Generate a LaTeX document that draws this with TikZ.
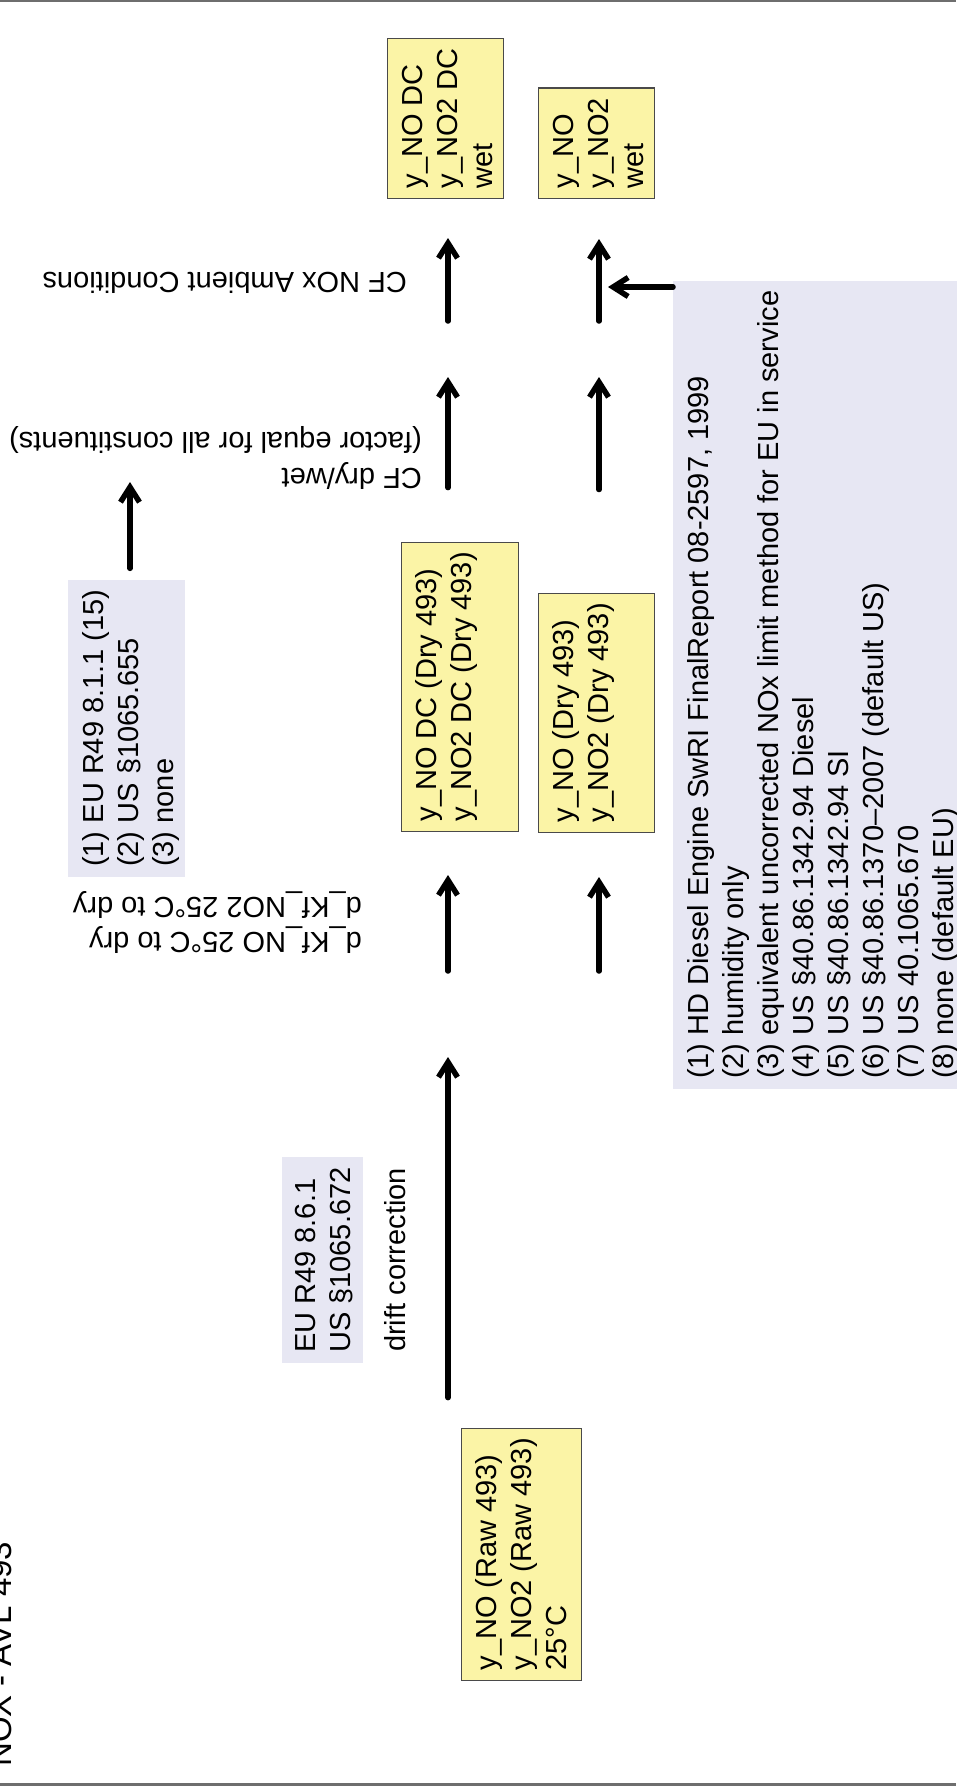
\documentclass[tikz,border=0pt]{standalone}
\usepackage{fontspec}
\setmainfont{Liberation Sans}
\usepackage{xcolor}
\usepackage{tikz}
\usetikzlibrary{arrows.meta, positioning}

\definecolor{boxfill}{HTML}{FBF4A6}
\definecolor{boxline}{HTML}{4A4A4A}
\definecolor{reffill}{HTML}{E7E7F3}
\definecolor{rulegray}{HTML}{6E6E6E}
\newcommand{\diagfont}{\fontsize{29}{35}\selectfont}
\newcommand{\textrows}[1]{\begin{tabular}[t]{@{}l@{}}#1\end{tabular}}

\begin{document}
\begin{tikzpicture}[x=1pt, y=-1pt, font=\diagfont,
    yellowbox/.style={draw=boxline, line width=1.3pt, fill=boxfill, rotate=90,
        inner xsep=10pt, inner ysep=6pt, text height=29pt, text depth=75pt, anchor=north west},
    refbox/.style={fill=reffill, rotate=90, inner xsep=10pt, inner ysep=6pt,
        text height=29pt, anchor=north west},
    note/.style={rotate=180, inner sep=0pt, text height=29pt, anchor=north west},
    sidetext/.style={inner sep=0pt, anchor=base west},
    flow/.style={-{Straight Barb[length=15pt, width=19pt]}, line width=5.5pt, line cap=round, line join=round}]

    \useasboundingbox (0,0) rectangle (956,1786);
    \draw[rulegray, line width=2.5pt] (0,1) -- (956,1);
    \draw[rulegray, line width=3pt] (0,1784.5) -- (956,1784.5);

    \node[sidetext, rotate=90, font=\fontsize{33}{40}\selectfont] (title) at (12,1767) {NOX - AVL 493};

    \node[yellowbox, text depth=79pt] (raw) at (461,1681) {\textrows{y\_NO (Raw 493)\\y\_NO2 (Raw 493)\\25°C}};
    \node[yellowbox, text depth=76pt] (dcdry) at (401,832) {\textrows{y\_NO DC (Dry 493)\\y\_NO2 DC (Dry 493)}};
    \node[yellowbox] (dry) at (538,833) {\textrows{y\_NO (Dry 493)\\y\_NO2 (Dry 493)}};
    \node[yellowbox] (wetdc) at (387,199) {\textrows{y\_NO DC\\y\_NO2 DC\\wet}};
    \node[yellowbox] (wet) at (538,199) {\textrows{y\_NO\\y\_NO2\\wet}};

    \node[refbox, text height=27pt, text depth=42pt] (drift) at (282,1363) {\textrows{EU R49 8.6.1\\US §1065.672}};
    \node[refbox, text depth=76pt] (kfopt) at (68,877) {\textrows{(1) EU R49 8.1.1 (15)\\(2) US §1065.655\\(3) none}};
    \node[refbox] (ambopt) at (673,1089) {\textrows{(1) HD Diesel Engine SwRI FinalReport 08-2597, 1999\\(2) humidity only\\(3) equivalent uncorrected NOx limit method for EU in service\\(4) US §40.86.1342.94 Diesel\\(5) US §40.86.1342.94 SI\\(6) US §40.86.1370–2007 (default US)\\(7) US 40.1065.670\\(8) none (default EU)}};

    \node[sidetext, rotate=90] (driftlbl) at (405,1352) {drift correction};
    \node[note] (kflbl) at (362,962) {\textrows{d\_Kf\_NO 25°C to dry\\d\_Kf\_NO2 25°C to dry}};
    \node[note] (cflbl) at (422,498) {\textrows{CF dry/wet\\[1pt](factor equal for all constituents)}};
    \node[sidetext, rotate=180] (amblbl) at (407,272) {CF NOx Ambient Conditions};

    \coordinate (a1tip) at (448,1057);
    \coordinate (a2tail) at (448,971);
    \coordinate (a3tip) at (448,377);
    \coordinate (a4tail) at (448,321);
    \coordinate (b2tail) at (599,971);
    \coordinate (b3tip) at (599,377);
    \coordinate (b4tail) at (599,321);
    \coordinate (opttip) at (130,482);
    \coordinate (sidetip) at (608,287);

    \draw[flow, shorten <=30pt] (raw.east -| a1tip) -- (a1tip);
    \draw[flow, shorten >=43pt] (a2tail) -- (a2tail |- dcdry.west);
    \draw[flow, shorten <=54pt] (dcdry.east -| a3tip) -- (a3tip);
    \draw[flow, shorten >=39pt] (a4tail) -- (a4tail |- wetdc.west);
    \draw[flow, shorten >=44pt] (b2tail) -- (b2tail |- dry.west);
    \draw[flow, shorten <=103pt] (dry.east -| b3tip) -- (b3tip);
    \draw[flow, shorten >=40pt] (b4tail) -- (b4tail |- wet.west);
    \draw[flow, shorten <=11pt] (kfopt.east -| opttip) -- (opttip);
    \draw[flow] (ambopt.north |- sidetip) -- (sidetip);

\end{tikzpicture}
\end{document}
